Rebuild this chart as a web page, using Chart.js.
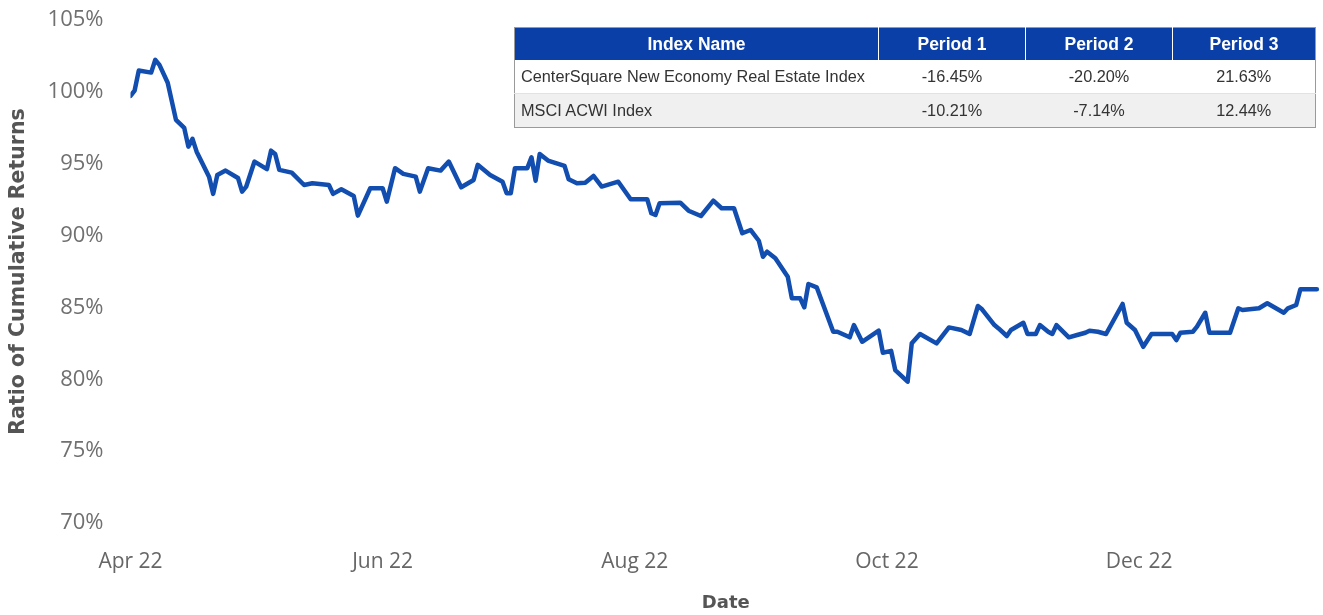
<!DOCTYPE html>
<html>
<head>
<meta charset="utf-8">
<script src="https://cdn.jsdelivr.net/npm/chart.js@4/dist/chart.umd.min.js"></script>
<style>
  html, body { margin: 0; padding: 0; background: #ffffff; }
  #wrap { position: relative; width: 1323px; height: 615px; }
  #c { position: absolute; left: 0; top: 0; }
  #tbl {
    position: absolute; left: 514px; top: 27px; width: 801px;
    border-collapse: collapse; table-layout: fixed;
    font-family: "Liberation Sans", Arial, sans-serif;
    border: 1px solid #9a9a9a;
  }
  #tbl th {
    background: #0b3fa8; color: #fff; font-weight: bold; font-size: 17.5px;
    height: 32px; padding: 0; text-align: center; border-left: 1px solid #ffffff;
  }
  #tbl th:first-child { border-left: none; }
  #tbl td {
    font-size: 16.3px; color: #333; height: 33px; padding: 0; text-align: center;
  }
  #tbl td:first-child { text-align: left; padding-left: 6px; }
  #tbl tr.r1 td { background: #ffffff; border-bottom: 1px solid #e2e2e2; }
  #tbl tr.r2 td { background: #f0f0f0; }
</style>
</head>
<body>
<div id="wrap">
  <canvas id="c" width="1323" height="615"></canvas>
  <table id="tbl">
    <colgroup><col style="width:364px"><col style="width:147px"><col style="width:147px"><col style="width:143px"></colgroup>
    <thead><tr id="hdr"></tr></thead>
    <tbody id="tb"></tbody>
  </table>
</div>
<script>
// ---- Data ----
const dates = [
  "2022-04-01","2022-04-02","2022-04-03","2022-04-06","2022-04-07","2022-04-08","2022-04-10","2022-04-12",
  "2022-04-14","2022-04-15","2022-04-16","2022-04-17","2022-04-20","2022-04-21","2022-04-22","2022-04-24",
  "2022-04-27","2022-04-28","2022-04-29","2022-05-01","2022-05-04","2022-05-05","2022-05-06","2022-05-07",
  "2022-05-10","2022-05-13","2022-05-15","2022-05-19","2022-05-20","2022-05-22","2022-05-25","2022-05-26",
  "2022-05-29","2022-06-01","2022-06-02","2022-06-04","2022-06-06","2022-06-09","2022-06-10","2022-06-12",
  "2022-06-15","2022-06-17","2022-06-20","2022-06-23","2022-06-24","2022-06-27","2022-06-30","2022-07-01",
  "2022-07-02","2022-07-03","2022-07-06","2022-07-07","2022-07-08","2022-07-09","2022-07-11","2022-07-15",
  "2022-07-16","2022-07-18","2022-07-20","2022-07-22","2022-07-24","2022-07-28","2022-07-31","2022-08-04",
  "2022-08-05","2022-08-06","2022-08-07","2022-08-12","2022-08-14","2022-08-17","2022-08-20","2022-08-22",
  "2022-08-25","2022-08-27","2022-08-29","2022-08-31","2022-09-01","2022-09-02","2022-09-04","2022-09-07",
  "2022-09-08","2022-09-10","2022-09-11","2022-09-12","2022-09-14","2022-09-18","2022-09-19","2022-09-22",
  "2022-09-23","2022-09-25","2022-09-29","2022-09-30","2022-10-02","2022-10-03","2022-10-06","2022-10-07",
  "2022-10-09","2022-10-13","2022-10-16","2022-10-19","2022-10-21","2022-10-23","2022-10-24","2022-10-27",
  "2022-10-28","2022-10-30","2022-10-31","2022-11-03","2022-11-04","2022-11-06","2022-11-07","2022-11-09",
  "2022-11-10","2022-11-11","2022-11-14","2022-11-16","2022-11-18","2022-11-19","2022-11-21","2022-11-23",
  "2022-11-27","2022-11-28","2022-11-30","2022-12-02","2022-12-04","2022-12-09","2022-12-10","2022-12-11",
  "2022-12-14","2022-12-15","2022-12-17","2022-12-18","2022-12-23","2022-12-25","2022-12-26","2022-12-30",
  "2023-01-01","2023-01-05","2023-01-06","2023-01-08","2023-01-09","2023-01-13"
];
const cumulativeReturns = [
  99.72,100.09,101.48,101.34,102.23,101.88,100.63,98.05,
  97.49,96.19,96.73,95.84,94.10,92.90,94.22,94.52,
  94.01,93.06,93.41,95.15,94.62,95.91,95.68,94.57,
  94.38,93.52,93.64,93.52,92.90,93.22,92.76,91.39,
  93.29,93.29,92.36,94.69,94.29,94.10,93.06,94.69,
  94.52,95.15,93.36,93.87,94.92,94.22,93.75,92.95,
  92.95,94.69,94.69,95.45,93.82,95.68,95.22,94.85,
  93.92,93.64,93.68,94.15,93.41,93.75,92.53,92.53,
  91.55,91.43,92.25,92.29,91.73,91.36,92.43,91.90,
  91.90,90.16,90.39,89.64,88.53,88.88,88.42,87.14,
  85.63,85.63,85.01,86.63,86.40,83.31,83.31,82.92,
  83.77,82.61,83.38,81.85,81.98,80.64,79.83,82.50,
  83.15,82.50,83.61,83.43,83.15,85.10,84.87,83.77,
  83.54,83.01,83.43,83.93,83.15,83.15,83.77,83.31,
  83.15,83.77,82.92,83.08,83.24,83.38,83.31,83.15,
  85.24,83.93,83.43,82.26,83.15,83.15,82.73,83.24,
  83.31,83.66,84.63,83.24,83.24,84.94,84.82,84.94,
  85.29,84.63,84.94,85.17,86.26,86.26
];
const tickDates = ["2022-04-01","2022-06-01","2022-08-01","2022-10-01","2022-12-01"];
const tickLabels = ["Apr 22","Jun 22","Aug 22","Oct 22","Dec 22"];
const yTicks = [70,75,80,85,90,95,100,105];
const axisEndDate = "2023-01-14";

const tableHeaders = ["Index Name","Period 1","Period 2","Period 3"];
const indexNames = ["CenterSquare New Economy Real Estate Index","MSCI ACWI Index"];
const period1 = ["-16.45%","-10.21%"];
const period2 = ["-20.20%","-7.14%"];
const period3 = ["21.63%","12.44%"];

// ---- Build ----
const origin = Date.UTC(2022,3,1);
function dayOf(s){ const p=s.split('-').map(Number); return Math.round((Date.UTC(p[0],p[1]-1,p[2])-origin)/86400000); }
const points = dates.map((d,i)=>({x: dayOf(d), y: cumulativeReturns[i]}));
const tickPos = tickDates.map(dayOf);

const hdr = document.getElementById('hdr');
tableHeaders.forEach(h=>{ const th=document.createElement('th'); th.textContent=h; hdr.appendChild(th); });
const tb = document.getElementById('tb');
indexNames.forEach((n,i)=>{
  const tr=document.createElement('tr'); tr.className = i===0?'r1':'r2';
  [n,period1[i],period2[i],period3[i]].forEach(v=>{ const td=document.createElement('td'); td.textContent=v; tr.appendChild(td); });
  tb.appendChild(tr);
});

new Chart(document.getElementById('c'), {
  type: 'line',
  data: { datasets: [{ data: points, borderColor: '#124db0', borderWidth: 4.5, pointRadius: 0,
    tension: 0, borderJoinStyle: 'round', borderCapStyle: 'round', fill: false }] },
  options: {
    responsive: false, animation: false,
    layout: { padding: { top: 20, right: 2, bottom: 0, left: 0 } },
    plugins: { legend: { display: false }, tooltip: { enabled: false } },
    scales: {
      x: {
        type: 'linear', min: 0, max: dayOf(axisEndDate),
        grid: { display: false }, border: { display: false },
        afterBuildTicks: (s)=>{ s.ticks = tickPos.map(v=>({value:v})); },
        afterFit: (s)=>{ s.height = 92; s.paddingLeft = 0; s.paddingRight = 0; },
        ticks: { autoSkip: false, maxRotation: 0, padding: 18, color: '#666',
          font: { family: "'Open Sans', sans-serif", size: 21 },
          callback: (v)=>{ const i = tickPos.indexOf(v); return i>=0 ? tickLabels[i] : ''; } },
        title: { display: true, text: 'Date', color: '#555', padding: { top: 0, bottom: 1 },
          font: { family: "'DejaVu Sans', sans-serif", size: 18, weight: 'bold' } }
      },
      y: {
        min: 70, max: 105,
        grid: { display: false }, border: { display: false },
        afterBuildTicks: (s)=>{ s.ticks = yTicks.map(v=>({value:v})); },
        afterFit: (s)=>{ s.width = 130.5; s.paddingTop = 0; s.paddingBottom = 0; },
        ticks: { padding: 19, color: '#707070',
          font: { family: "'Open Sans', sans-serif", size: 22 }, callback: (v)=> v + '%' },
        title: { display: true, text: 'Ratio of Cumulative Returns', color: '#555', padding: { top: 6, bottom: 0 },
          font: { family: "'DejaVu Sans', sans-serif", size: 20.5, weight: 'bold' } }
      }
    }
  }
});
</script>
</body>
</html>
